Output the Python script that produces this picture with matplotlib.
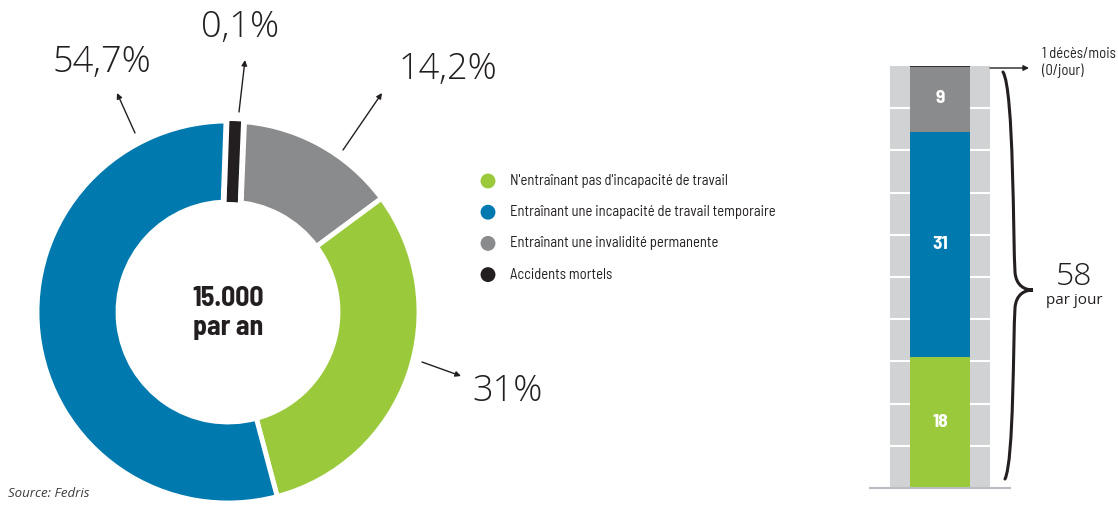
import matplotlib.pyplot as plt
from matplotlib.patches import Wedge, PathPatch
from matplotlib.path import Path

# Accidents du travail (Fedris)
categories = ["Accidents mortels",
              "Entraînant une invalidité permanente",
              "N'entraînant pas d'incapacité de travail",
              "Entraînant une incapacité de travail temporaire"]
shares = [0.1, 14.2, 31, 54.7]          # % per year
colors = ["#231F20", "#8A8B8D", "#9ACA3C", "#0079AE"]
per_year = 15000

# per day, stacked from the bottom
day_labels = ["N'entraînant pas", "Temporaire", "Permanente", "Mortels"]
per_day = [18, 31, 9, 1 / 30]
day_colors = ["#9ACA3C", "#0079AE", "#8A8B8D", "#231F20"]
total_day = 58

legend_order = [2, 3, 1, 0]

COND = ["Barlow Semi Condensed", "DejaVu Sans"]
LIGHT = ["Open Sans", "DejaVu Sans"]
INK = "#231F20"

W, H = 1118, 507
fig = plt.figure(figsize=(W / 100, H / 100), dpi=100)

# donut
cx, cy, r_out, r_in = 228, 312, 191, 110
dax = fig.add_axes([(cx - r_out) / W, (H - cy - r_out) / H, 2 * r_out / W, 2 * r_out / H])
wedges, _ = dax.pie(shares, colors=colors, startangle=88, counterclock=False, radius=1,
                    wedgeprops=dict(width=1 - r_in / r_out, edgecolor="white", linewidth=3.5))
dax.set_xlim(-1, 1)
dax.set_ylim(-1, 1)
dax.set_aspect("equal")

# the fatal share is tiny: stroke it so it stays visible inside the ring
ring = Wedge((0, 0), 1, 0, 360, width=1 - r_in / r_out)
ring.set_transform(dax.transData)
t1, t2 = wedges[0].theta1, wedges[0].theta2
for ec, lw in [("white", 16), (colors[0], 7.5)]:
    w = Wedge((0, 0), 1, t1, t2, width=1 - r_in / r_out, facecolor=colors[0],
              edgecolor=ec, linewidth=lw)
    dax.add_patch(w)
    w.set_clip_path(ring)

# stacked bar per day
bax = fig.add_axes([870 / W, (H - 488) / H, 140 / W, (488 - 66) / H])
bar_top = sum(per_day)
bax.bar(0, bar_top, width=100, color="#D1D2D4", zorder=1)
for k in range(1, 10):
    bax.hlines(bar_top * k / 10, -50, 50, color="white", lw=1.5, zorder=2)
bottom = 0
for v, c in zip(per_day, day_colors):
    bax.bar(0, v, width=60, bottom=bottom, color=c, zorder=3,
            edgecolor=c if v < 1 else "none", linewidth=1.2)
    if v >= 1:
        bax.text(0, bottom + v / 2, f"{v:g}", color="white", ha="center", va="center",
                 fontsize=14, fontweight="bold", family=COND, zorder=4)
    bottom += v
bax.axhline(0, color="#BCBDC0", lw=1.5, zorder=5, clip_on=False)
bax.set_xlim(-70, 70)
bax.set_ylim(0, bar_top)
bax.axis("off")

# overlay in pixel coordinates for labels and arrows
ax = fig.add_axes([0, 0, 1, 1], zorder=10)
ax.set_xlim(0, W)
ax.set_ylim(H, 0)
ax.axis("off")
ax.patch.set_alpha(0)

def pct(v):
    return f"{v:g}".replace(".", ",") + "%"

arrow = dict(arrowstyle="-|>", color=INK, lw=1, mutation_scale=8, shrinkA=0, shrinkB=0)
label_pos = {0: ((239, 112), (245, 60), (240, 37)),
             1: ((343, 150), (382, 93), (448, 79)),
             2: ((422, 362), (461, 376), (508, 401)),
             3: ((135, 133), (117, 93), (102, 72))}
for i, (p0, p1, pt) in label_pos.items():
    ax.annotate("", xy=p1, xytext=p0, arrowprops=arrow)
    ax.text(pt[0], pt[1], pct(shares[i]), ha="center", va="baseline", fontsize=26,
            fontweight="light", fontstretch="normal", family=LIGHT, color=INK)

ax.text(cx, 299, f"{per_year:,}".replace(",", "."), ha="center", va="center",
        fontsize=20, fontweight="bold", family=COND, color=INK)
ax.text(cx, 328, "par an", ha="center", va="center",
        fontsize=20, fontweight="bold", family=COND, color=INK)

# legend
for row, i in enumerate(legend_order):
    y = 181 + row * 31.2
    ax.scatter(488, y, s=115, color=colors[i], edgecolors="none")
    ax.text(510, y, categories[i], ha="left", va="center", fontsize=10.5,
            family=COND, color=INK)

# fatal accidents per month
ax.annotate("", xy=(1029, 68), xytext=(990, 68), arrowprops=arrow)
ax.text(1042, 58, "1 décès/mois", ha="left", va="baseline", fontsize=10.5, family=COND, color=INK)
ax.text(1042, 75, "(0/jour)", ha="left", va="baseline", fontsize=10.5, family=COND, color=INK)

# curly brace for the daily total
verts = [(1003, 72), (1014, 90), (1013, 240), (1015, 272),
         (1016, 286), (1025, 290), (1033, 290),
         (1025, 290), (1016, 294), (1015, 308),
         (1013, 340), (1014, 460), (1005, 479)]
codes = [Path.MOVETO] + [Path.CURVE4] * 12
ax.add_patch(PathPatch(Path(verts, codes), facecolor="none", edgecolor=INK, lw=2.2,
                       capstyle="round"))
ax.text(1074, 285, f"{total_day}", ha="center", va="baseline", fontsize=23,
        fontweight="light", fontstretch="normal", family=LIGHT, color=INK)
ax.text(1074, 304, "par jour", ha="center", va="baseline", fontsize=11,
        fontstretch="normal", family=LIGHT, color=INK)

ax.text(8, 497, "Source: Fedris", ha="left", va="baseline", fontsize=9.5,
        style="italic", fontstretch="normal", family=LIGHT, color="#3C3C3C")

fig.savefig("out.png", dpi=100)
